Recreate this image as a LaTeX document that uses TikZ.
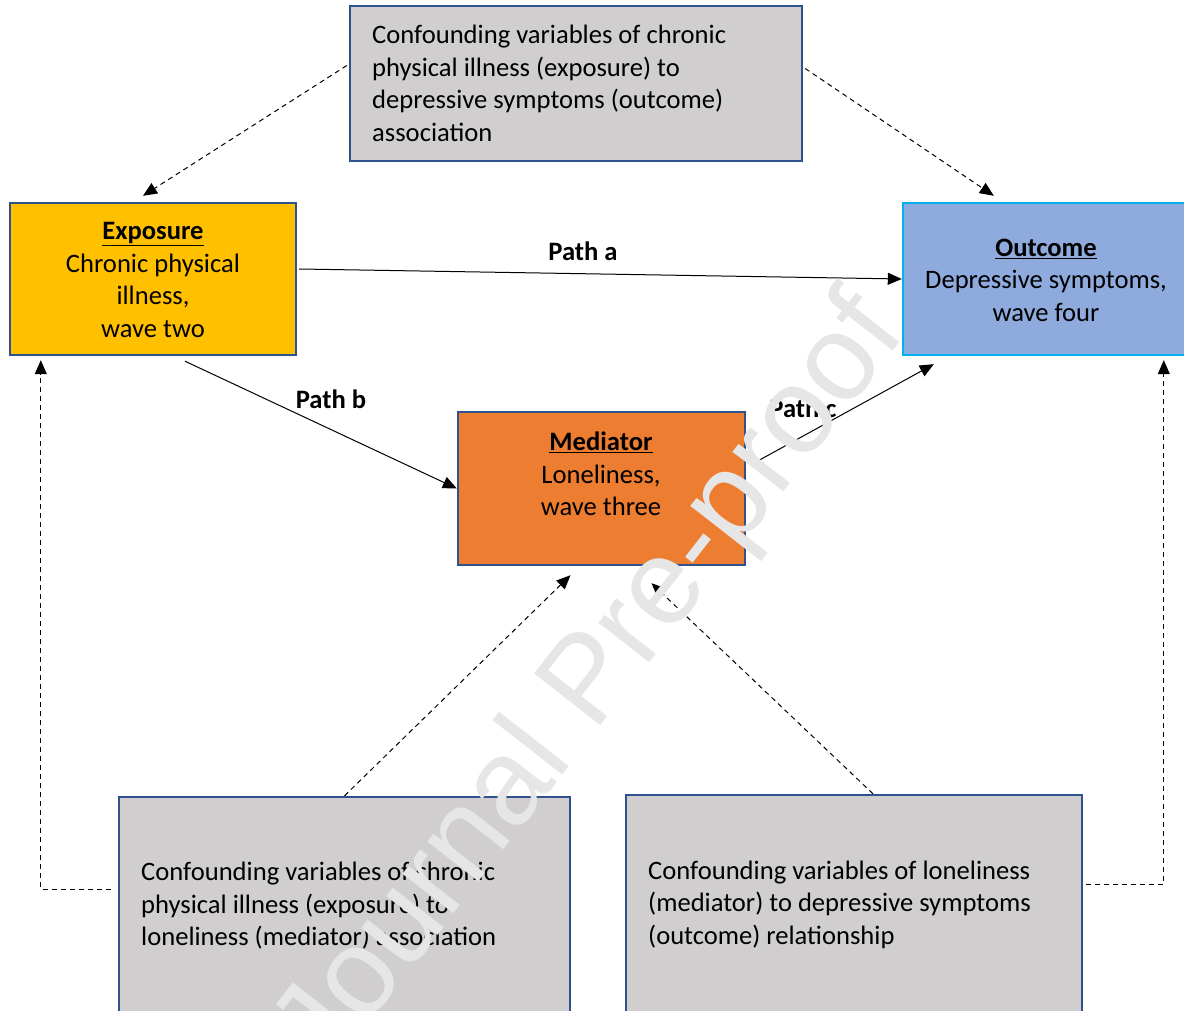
\documentclass[tikz,border=0pt]{standalone}
\usepackage{fontspec}
\setmainfont{Carlito}
\newfontfamily\wmfont{Liberation Sans}
\usetikzlibrary{arrows.meta,calc}
\definecolor{bordc}{HTML}{2F528F}
\definecolor{outb}{HTML}{00B0F0}
\definecolor{grayf}{HTML}{D0CECE}
\definecolor{expof}{HTML}{FFC000}
\definecolor{outf}{HTML}{8FAADC}
\definecolor{medf}{HTML}{ED7D31}
\definecolor{wmc}{HTML}{E6E6E6}
\begin{document}
\begin{tikzpicture}[x=1pt,y=-1pt,
  boxbase/.style={draw=bordc,line width=2.4pt,inner sep=0pt},
  txt/.style={font=\fontsize{26.6}{32.5}\selectfont,inner sep=0pt},
  lbl/.style={font=\fontsize{26.6}{32.5}\selectfont\bfseries,inner sep=0pt},
  solidarrow/.style={line width=1pt,-{Triangle[length=14pt,width=12pt]}},
  dasharrow/.style={line width=1pt,dash pattern=on 5pt off 4pt,-{Triangle[length=14pt,width=12pt]}}]
\useasboundingbox (0,0) rectangle (1184,1011);
\clip (0,0) rectangle (1184,1011);
\fill[white] (0,0) rectangle (1184,1011);
% boxes
\node[boxbase,fill=grayf,minimum width=452pt,minimum height=155pt] (top) at (576,83.5) {};
\node[boxbase,fill=expof,minimum width=286pt,minimum height=152pt] (expo) at (153,279) {};
\node[boxbase,draw=outb,fill=outf,minimum width=286pt,minimum height=152pt] (outc) at (1046,279) {};
\node[boxbase,fill=medf,minimum width=287pt,minimum height=153pt] (med) at (601.5,488.5) {};
\node[boxbase,fill=grayf,minimum width=451pt,minimum height=240pt] (bl) at (344.5,917) {};
\node[boxbase,fill=grayf,minimum width=456pt,minimum height=240pt] (br) at (854,915) {};
% texts
\node[txt,anchor=west,align=left] (topT) at (372,83.5) {Confounding variables of chronic\\physical illness (exposure) to\\depressive symptoms (outcome)\\association};
\node[txt,align=center] (expoT) at (153,280) {\underline{\textbf{Exposure}}\\Chronic physical\\illness,\\wave two};
\node[txt,align=center] (outcT) at (1046,280) {\underline{\textbf{Outcome}}\\Depressive symptoms,\\wave four};
\node[txt,align=center] (medT) at (601,474) {\underline{\textbf{Mediator}}\\Loneliness,\\wave three};
\node[txt,anchor=west,align=left] (blT) at (141,906) {Confounding variables of chronic\\physical illness (exposure) to\\loneliness (mediator) association};
\node[txt,anchor=west,align=left] (brT) at (648,904.5) {Confounding variables of loneliness\\(mediator) to depressive symptoms\\(outcome) relationship};
% path labels
\node[lbl] (la) at (583,251) {Path a};
\node[lbl] (lb) at (331,399) {Path b};
\node[lbl] (lc) at (803,408) {Path c};
% solid paths
\draw[solidarrow] ([xshift=2pt,yshift=10pt]expo.east) -- (outc.west);
\draw[solidarrow] ([xshift=32pt,yshift=-5pt]expo.south) -- (med.west);
\draw[solidarrow] ([xshift=7pt,yshift=25pt]med.east) -- ([xshift=32pt,yshift=-8pt]outc.south west);
% dashed confounder arrows
\draw[dasharrow] ([xshift=-2pt,yshift=18pt]top.west) -- ([xshift=-10pt,yshift=6pt]expo.north);
\draw[dasharrow] ([xshift=2pt,yshift=15pt]top.east) -- ([xshift=92pt,yshift=6pt]outc.north west);
\draw[dasharrow] (bl.north) -- ([xshift=-31pt,yshift=-9pt]med.south);
\draw[dasharrow] ([xshift=19pt]br.north) -- ([xshift=50pt,yshift=-17pt]med.south);
\draw[dasharrow] ([xshift=-7pt,yshift=28pt]bl.west) -| ([xshift=32pt,yshift=-4pt]expo.south west);
\draw[dasharrow] ([xshift=3pt,yshift=31pt]br.east) -| ([xshift=262pt,yshift=-4pt]outc.south west);
% watermark
\node[rotate=52,text=wmc,font=\wmfont\fontsize{122}{122}\selectfont,inner sep=0pt] (wm) at (593,685) {Journal Pre-proof};
\end{tikzpicture}
\end{document}
